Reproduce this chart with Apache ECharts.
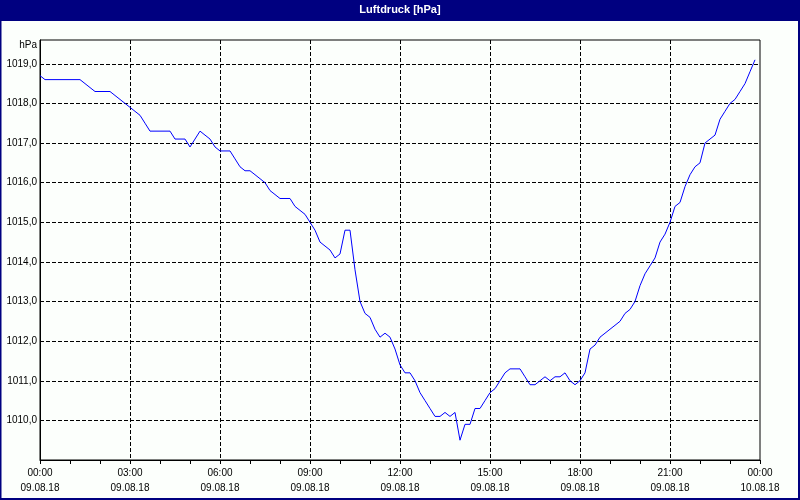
<!DOCTYPE html>
<html>
<head>
<meta charset="utf-8">
<script src="https://cdn.jsdelivr.net/npm/echarts@6/dist/echarts.min.js"></script>
<style>
html,body{margin:0;padding:0;background:#fcfffc;}
#chart{width:800px;height:500px;}
</style>
</head>
<body>
<div id="chart"></div>
<script>
// Luftdruck 09.08.18, 10-minute samples starting 00:00
const sampleStepMinutes = 10;
const pressure = [
1018.7,1018.6,1018.6,1018.6,1018.6,1018.6,1018.6,1018.6,1018.6,1018.5,
1018.4,1018.3,1018.3,1018.3,1018.3,1018.2,1018.1,1018.0,1017.9,1017.8,
1017.7,1017.5,1017.3,1017.3,1017.3,1017.3,1017.3,1017.1,1017.1,1017.1,
1016.9,1017.1,1017.3,1017.2,1017.1,1016.9,1016.8,1016.8,1016.8,1016.6,
1016.4,1016.3,1016.3,1016.2,1016.1,1016.0,1015.8,1015.7,1015.6,1015.6,
1015.6,1015.4,1015.3,1015.2,1015.0,1014.8,1014.5,1014.4,1014.3,1014.1,
1014.2,1014.8,1014.8,1013.8,1013.0,1012.7,1012.6,1012.3,1012.1,1012.2,
1012.1,1011.8,1011.4,1011.2,1011.2,1011.0,1010.7,1010.5,1010.3,1010.1,
1010.1,1010.2,1010.1,1010.2,1009.5,1009.9,1009.9,1010.3,1010.3,1010.5,
1010.7,1010.8,1011.0,1011.2,1011.3,1011.3,1011.3,1011.1,1010.9,1010.9,
1011.0,1011.1,1011.0,1011.1,1011.1,1011.2,1011.0,1010.9,1011.0,1011.2,
1011.8,1011.9,1012.1,1012.2,1012.3,1012.4,1012.5,1012.7,1012.8,1013.0,
1013.4,1013.7,1013.9,1014.1,1014.5,1014.7,1015.0,1015.4,1015.5,1015.9,
1016.2,1016.4,1016.5,1017.0,1017.1,1017.2,1017.6,1017.8,1018.0,1018.1,
1018.3,1018.5,1018.8,1019.1
];
const timeTickLabels = ["00:00","03:00","06:00","09:00","12:00","15:00","18:00","21:00","00:00"];
const dateTickLabels = ["09.08.18","09.08.18","09.08.18","09.08.18","09.08.18","09.08.18","09.08.18","09.08.18","10.08.18"];
const titleText = "Luftdruck [hPa]";
const unitText = "hPa";

const seriesData = pressure.map((v, i) => [i * sampleStepMinutes / 60, v]);

const chart = echarts.init(document.getElementById('chart'), null, {renderer: 'canvas'});
const font = '"Liberation Sans", Arial, sans-serif';
chart.setOption({
  animation: false,
  backgroundColor: '#fcfffc',
  graphic: [
    {type: 'rect', shape: {x: 0, y: 0, width: 800, height: 20}, style: {fill: '#000080'}, z: 10},
    {type: 'rect', shape: {x: 0.5, y: 20, width: 798.5, height: 479}, style: {fill: 'none', stroke: '#000080', lineWidth: 2}, z: 10},
    {type: 'text', x: 400, y: 10, style: {text: titleText, fill: '#ffffff', font: 'bold 11px ' + font, textAlign: 'center', textVerticalAlign: 'middle'}, z: 11},
    {type: 'text', x: 37, y: 45, style: {text: unitText, fill: '#000000', font: '10px ' + font, textAlign: 'right', textVerticalAlign: 'middle'}, z: 11}
  ],
  grid: {left: 40, right: 40, top: 40, bottom: 40, show: true, borderColor: '#000000', borderWidth: 1, backgroundColor: 'transparent'},
  xAxis: {
    type: 'value', min: 0, max: 24, interval: 3,
    axisLine: {show: true, lineStyle: {color: '#000000', width: 1}},
    axisTick: {show: true, length: 4, lineStyle: {color: '#000000'}},
    minorTick: {show: true, splitNumber: 3, length: 4, lineStyle: {color: '#000000'}},
    splitLine: {show: true, showMinLine: false, showMaxLine: false, lineStyle: {color: '#000000', type: [4, 2], width: 1}},
    axisLabel: {
      color: '#000000', fontFamily: font, fontSize: 10, lineHeight: 15, margin: 6,
      formatter: v => { const k = Math.round(v / 3); return timeTickLabels[k] + '\n' + dateTickLabels[k]; }
    }
  },
  yAxis: {
    type: 'value', min: 1009, max: 1019.6, interval: 1,
    axisLine: {show: true, lineStyle: {color: '#000000', width: 1}},
    axisTick: {show: false},
    splitLine: {show: true, showMinLine: false, showMaxLine: false, lineStyle: {color: '#000000', type: [4, 2], width: 1}},
    axisLabel: {
      color: '#000000', fontFamily: font, fontSize: 10, margin: 3,
      showMinLabel: false, showMaxLabel: false,
      formatter: v => v.toFixed(1).replace('.', ',')
    }
  },
  series: [{
    type: 'line', data: seriesData, showSymbol: false, symbol: 'none',
    lineStyle: {color: '#0000ff', width: 1}, itemStyle: {color: '#0000ff'}
  }]
});
</script>
</body>
</html>
